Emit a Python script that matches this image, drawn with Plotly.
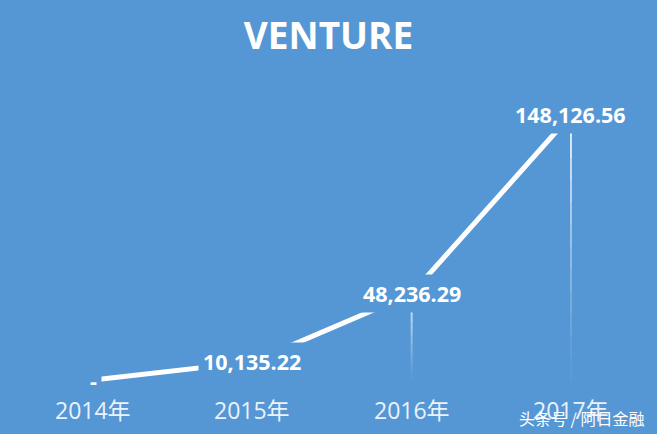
import plotly.graph_objects as go

categories = ["2014年", "2015年", "2016年", "2017年"]
values = [0, 10135.22, 48236.29, 148126.56]
value_labels = ["-", "10,135.22", "48,236.29", "148,126.56"]
title_text = "VENTURE"
watermark = "头条号 / 阿日金融"

BG = "#5597d4"
FONT = "Open Sans, Noto Sans CJK SC, sans-serif"

xs = list(range(len(categories)))
fig = go.Figure()

# fading drop lines from each point down to zero
n_seg = 12
for i, v in enumerate(values):
    if v <= 0:
        continue
    for k in range(n_seg):
        y0 = v * (1 - k / n_seg)
        y1 = v * (1 - (k + 1) / n_seg)
        op = 0.85 * (1 - k / n_seg) ** 1.3
        fig.add_trace(go.Scatter(
            x=[xs[i], xs[i]], y=[y0, y1], mode="lines",
            line=dict(color="white", width=2), opacity=op,
            hoverinfo="skip", showlegend=False))

fig.add_trace(go.Scatter(
    x=xs, y=values, mode="lines",
    line=dict(color="white", width=5),
    hoverinfo="skip", showlegend=False))

for i, (v, lab) in enumerate(zip(values, value_labels)):
    fig.add_annotation(
        x=xs[i], y=v, text=f"<b>{lab}</b>", showarrow=False,
        font=dict(family=FONT, size=21.5, color="white"),
        bgcolor=BG, borderpad=4, xanchor="center", yanchor="middle")

for i, c in enumerate(categories):
    fig.add_annotation(
        x=xs[i], y=0.055, yref="paper", text=c, showarrow=False,
        font=dict(family=FONT, size=23, color="#eaf2fb"),
        xanchor="center", yanchor="middle")

fig.add_annotation(
    x=0.983, y=0.037, xref="paper", yref="paper", text=watermark,
    showarrow=False, xanchor="right", yanchor="middle",
    font=dict(family="Noto Sans CJK SC, sans-serif", size=16, color="white"))

fig.update_layout(
    width=657, height=434,
    margin=dict(l=0, r=0, t=0, b=0),
    paper_bgcolor=BG, plot_bgcolor=BG,
    title=dict(text=f"<b>{title_text}</b>", x=0.5, xanchor="center",
               y=0.917, yanchor="middle",
               font=dict(family=FONT, size=37, color="white")),
    xaxis=dict(range=[-0.584, 3.540], visible=False),
    yaxis=dict(range=[-30180, 212400], visible=False),
    showlegend=False,
)

fig.write_html("out.html",
               config={"displayModeBar": False},
               post_script="document.body.style.margin='0';document.body.style.overflow='hidden';")
